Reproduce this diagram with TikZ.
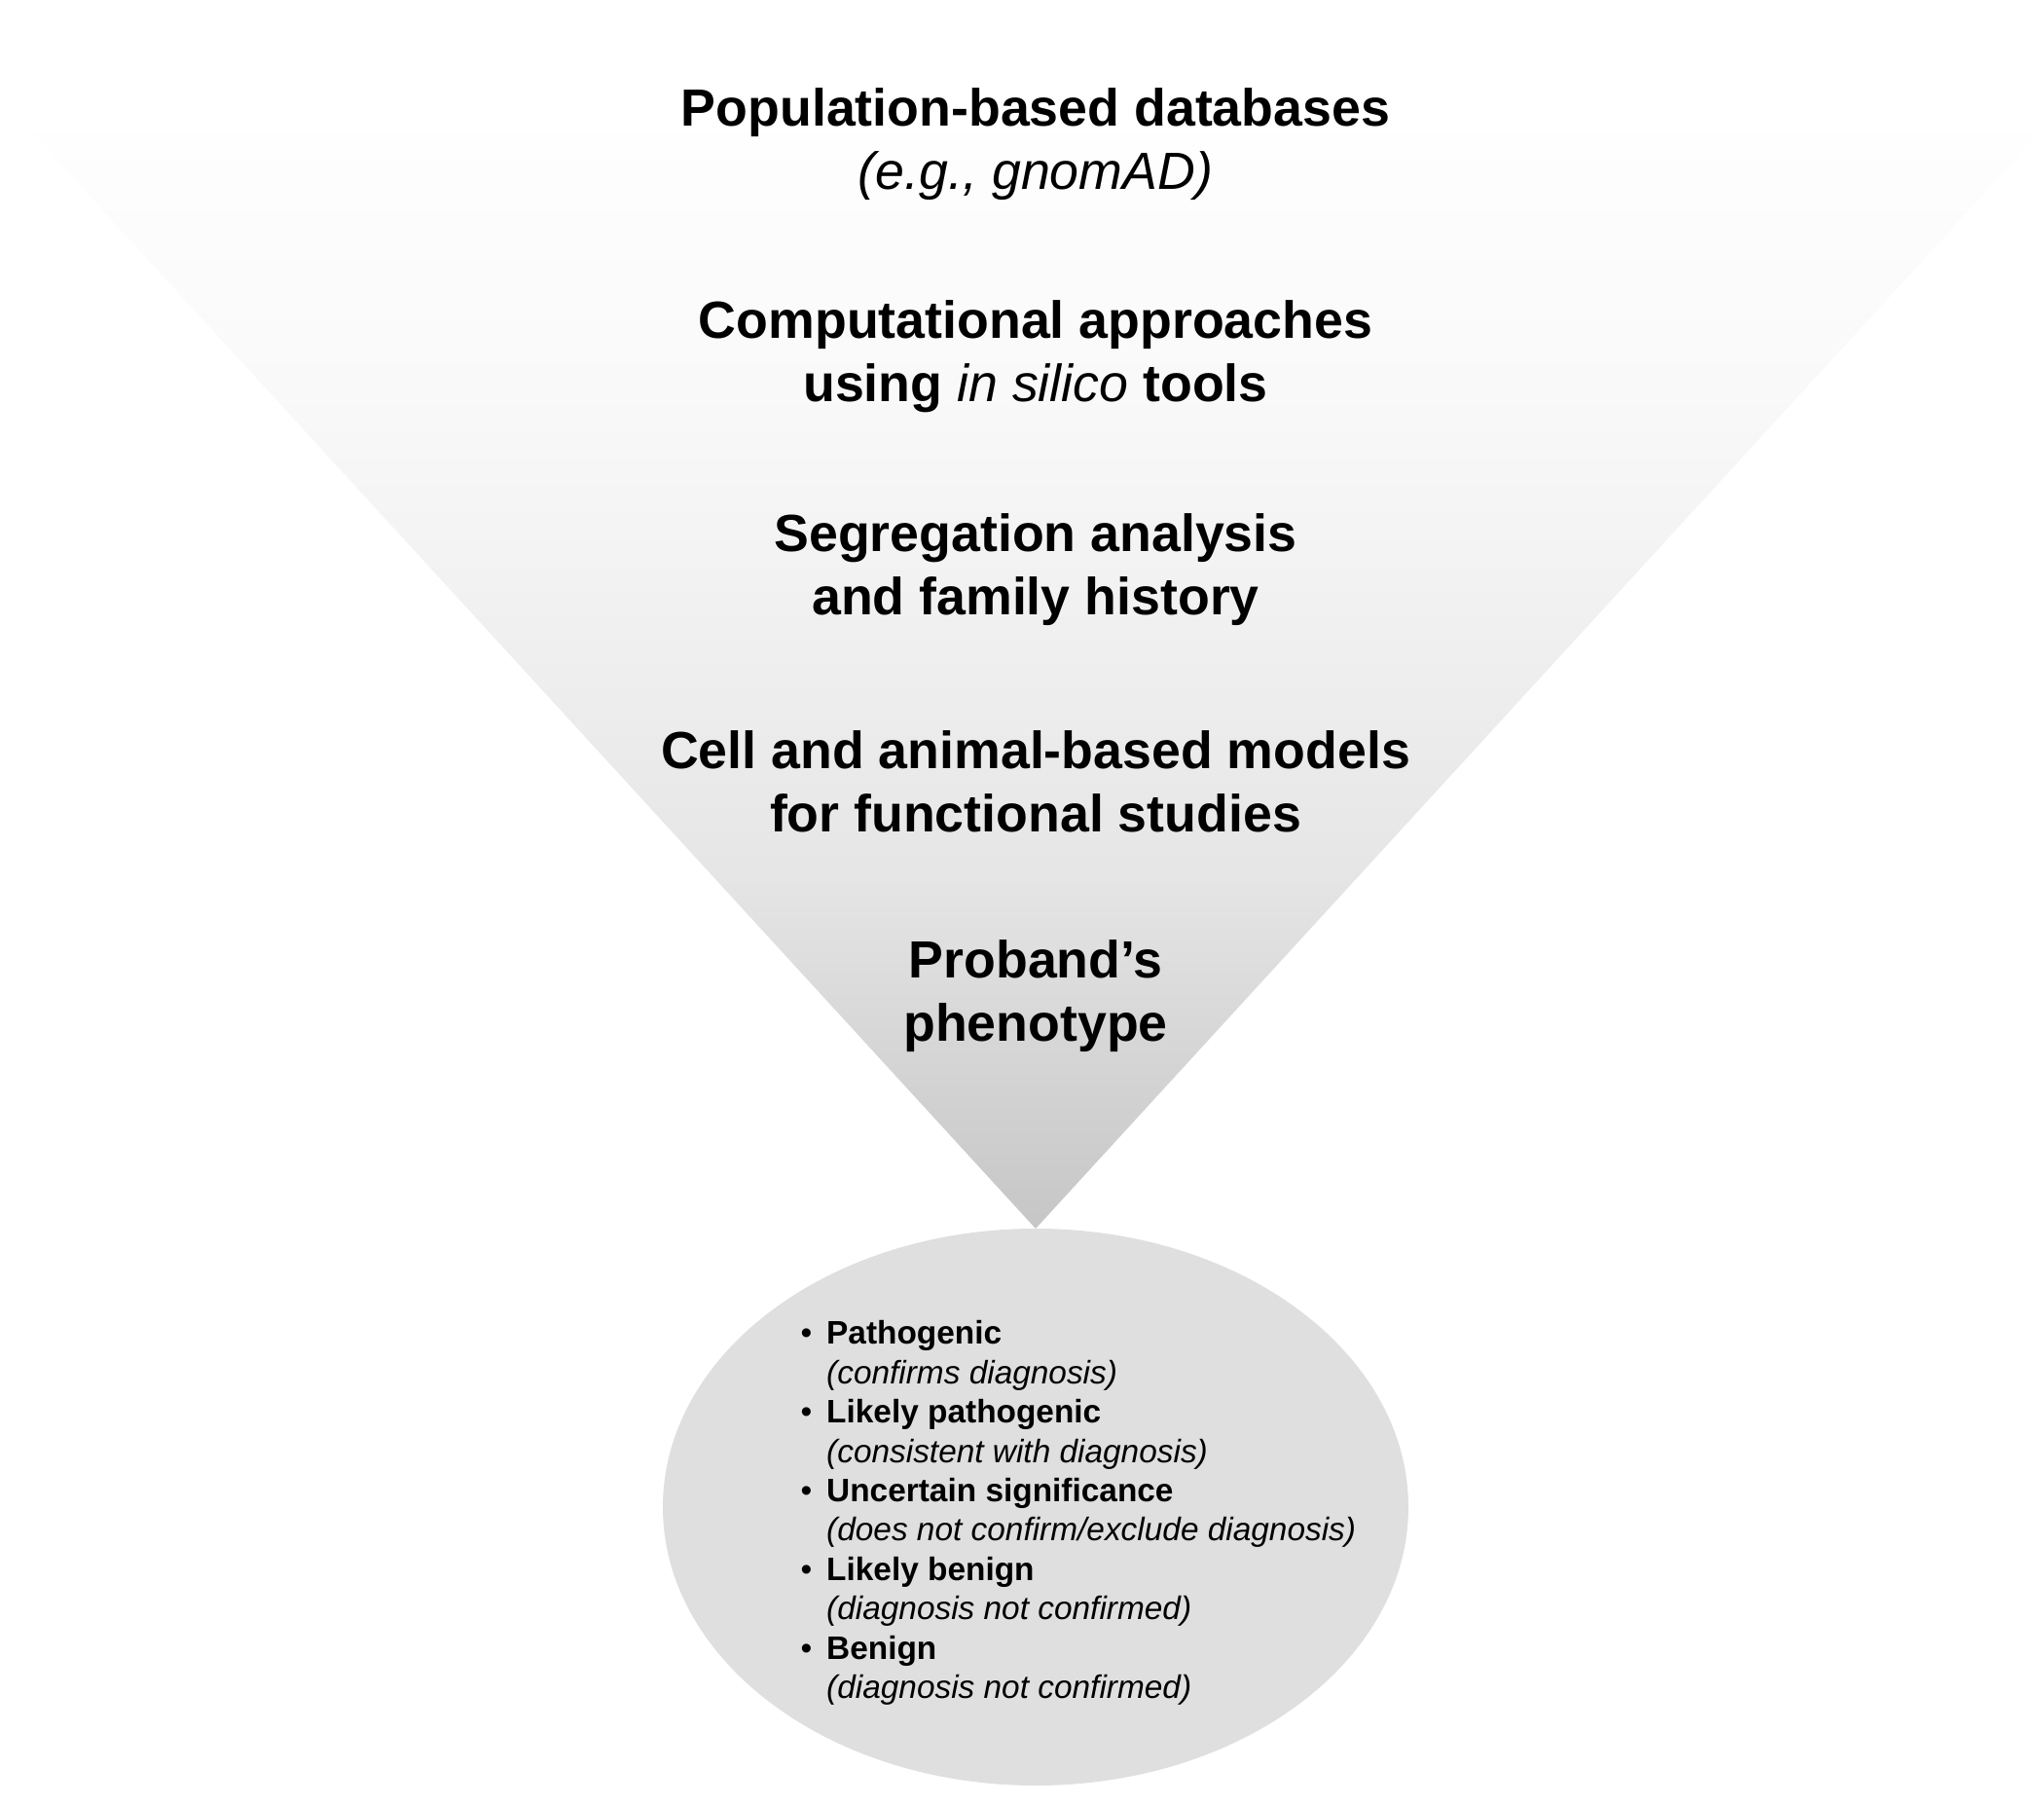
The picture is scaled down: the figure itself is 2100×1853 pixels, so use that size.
\documentclass[tikz,border=0pt]{standalone}
\usepackage{fontspec}
\setmainfont{Liberation Sans}
\definecolor{f0}{HTML}{C6C6C6}
\definecolor{f1}{HTML}{D8D8D8}
\definecolor{f2}{HTML}{E6E6E6}
\definecolor{f3}{HTML}{F2F2F2}
\definecolor{f4}{HTML}{F9F9F9}
\definecolor{f5}{HTML}{FEFEFE}
\definecolor{ellfill}{HTML}{DFDFDF}
\pgfdeclareverticalshading{funnelshade}{100bp}{color(0bp)=(f0); color(25bp)=(f0); color(34.4bp)=(f1); color(41.5bp)=(f2); color(54.6bp)=(f3); color(63.3bp)=(f4); color(75bp)=(f5); color(100bp)=(f5)}
\newcommand{\bul}{\llap{\textbullet\hspace{15bp}}}
\begin{document}
\begin{tikzpicture}[x=1bp,y=-1bp,
  head/.style={font=\bfseries\fontsize{53.7bp}{65bp}\selectfont, align=center, inner sep=0pt},
  listtext/.style={font=\fontsize{33.4bp}{40.4bp}\selectfont, align=left, inner sep=0pt, anchor=west}]
\useasboundingbox (0,0) rectangle (2100,1853);
\shade[shading=funnelshade] (33,137) -- (2095,137) -- (1064,1262) -- cycle;
\fill[ellfill] (1064,1548) ellipse [x radius=383, y radius=286];
\node[head] (pop) at (1064,148) {Population-based databases\\{\mdseries\itshape (e.g., gnomAD)}};
\node[head] (comp) at (1064,366) {Computational approaches\\using {\mdseries\itshape in silico} tools};
\node[head] (seg) at (1064,585) {Segregation analysis\\and family history};
\node[head] (cell) at (1064,803) {Cell and animal-based models\\for functional studies};
\node[head] (prob) at (1064,1023) {Proband’s\\phenotype};
\node[listtext] (list) at (849,1554) {\bul\textbf{Pathogenic}\\
\textit{(confirms diagnosis)}\\
\bul\textbf{Likely pathogenic}\\
\textit{(consistent with diagnosis)}\\
\bul\textbf{Uncertain significance}\\
\textit{(does not confirm/exclude diagnosis)}\\
\bul\textbf{Likely benign}\\
\textit{(diagnosis not confirmed)}\\
\bul\textbf{Benign}\\
\textit{(diagnosis not confirmed)}};
\end{tikzpicture}
\end{document}
